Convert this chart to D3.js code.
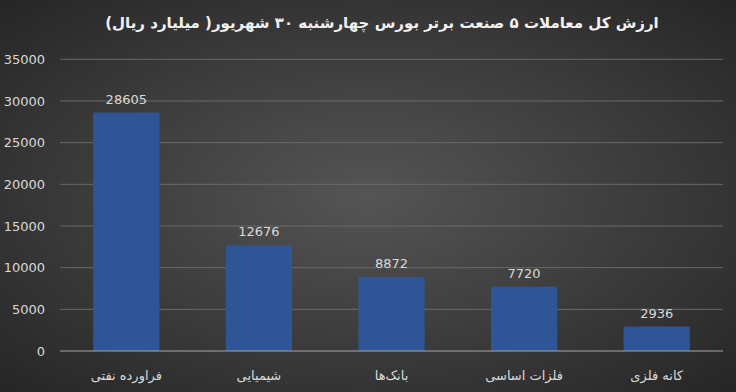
<!doctype html>
<html>
<head>
<meta charset="utf-8">
<script src="https://d3js.org/d3.v7.min.js"></script>
<style>
    body { margin: 0; background: #333; }
    #chart text { font-family: "DejaVu Sans", sans-serif; }
</style>
</head>
<body>
<svg id="chart" width="736" height="392"></svg>
<script>
var categories = ["فراورده نفتی", "شیمیایی", "بانک‌ها", "فلزات اساسی", "کانه فلزی"];
var values = [28605, 12676, 8872, 7720, 2936];
var yTicks = [0, 5000, 10000, 15000, 20000, 25000, 30000, 35000];
var title = "ارزش کل معاملات ۵ صنعت برتر بورس چهارشنبه ۳۰ شهریور( میلیارد ریال)";

var svg = d3.select("#chart");

// background
var defs = svg.append("defs");
var grad = defs.append("radialGradient")
    .attr("id", "bg")
    .attr("cx", "50%").attr("cy", "50%").attr("r", "70%");
grad.append("stop").attr("offset", "0%").attr("stop-color", "#555555");
grad.append("stop").attr("offset", "100%").attr("stop-color", "#262626");
svg.append("rect").attr("width", 736).attr("height", 392).attr("fill", "url(#bg)");

var plotLeft = 60, plotRight = 723, plotTop = 59.3, plotBottom = 351;

var x = d3.scaleBand()
    .domain(categories)
    .range([plotLeft, plotRight])
    .paddingInner(0.5)
    .paddingOuter(0.25);

var y = d3.scaleLinear()
    .domain([0, 35000])
    .range([plotBottom, plotTop]);

// gridlines
svg.append("g")
    .selectAll("line")
    .data(yTicks.filter(function(d) { return d > 0; }))
    .enter()
    .append("line")
    .attr("x1", plotLeft).attr("x2", plotRight)
    .attr("y1", function(d) { return y(d); })
    .attr("y2", function(d) { return y(d); })
    .attr("stroke", "#6a6a6a")
    .attr("stroke-width", 1);

// y tick labels
svg.append("g")
    .selectAll("text")
    .data(yTicks)
    .enter()
    .append("text")
    .attr("x", 45)
    .attr("y", function(d) { return y(d); })
    .attr("dy", "0.35em")
    .attr("text-anchor", "end")
    .attr("fill", "#d9d9d9")
    .attr("font-size", 13)
    .text(function(d) { return d; });

// bars
svg.append("g")
    .selectAll("rect")
    .data(values)
    .enter()
    .append("rect")
    .attr("x", function(d, i) { return x(categories[i]); })
    .attr("width", x.bandwidth())
    .attr("y", function(d) { return y(d); })
    .attr("height", function(d) { return plotBottom - y(d); })
    .attr("fill", "#2f5597");

// baseline
svg.append("line")
    .attr("x1", plotLeft).attr("x2", plotRight)
    .attr("y1", plotBottom).attr("y2", plotBottom)
    .attr("stroke", "#a6a6a6")
    .attr("stroke-width", 1);

// value labels
svg.append("g")
    .selectAll("text")
    .data(values)
    .enter()
    .append("text")
    .attr("x", function(d, i) { return x(categories[i]) + x.bandwidth() / 2; })
    .attr("y", function(d) { return y(d) - 9; })
    .attr("text-anchor", "middle")
    .attr("fill", "#d9d9d9")
    .attr("font-size", 13)
    .text(function(d) { return d; });

// category labels
svg.append("g")
    .selectAll("text")
    .data(categories)
    .enter()
    .append("text")
    .attr("x", function(d) { return x(d) + x.bandwidth() / 2; })
    .attr("y", 380)
    .attr("text-anchor", "middle")
    .attr("direction", "rtl")
    .attr("fill", "#d9d9d9")
    .attr("font-size", 13)
    .text(function(d) { return d; });

// title
svg.append("text")
    .attr("x", 382)
    .attr("y", 28)
    .attr("text-anchor", "middle")
    .attr("direction", "rtl")
    .attr("fill", "#f2f2f2")
    .attr("font-size", 15)
    .attr("font-weight", "bold")
    .text(title);
</script>
</body>
</html>
